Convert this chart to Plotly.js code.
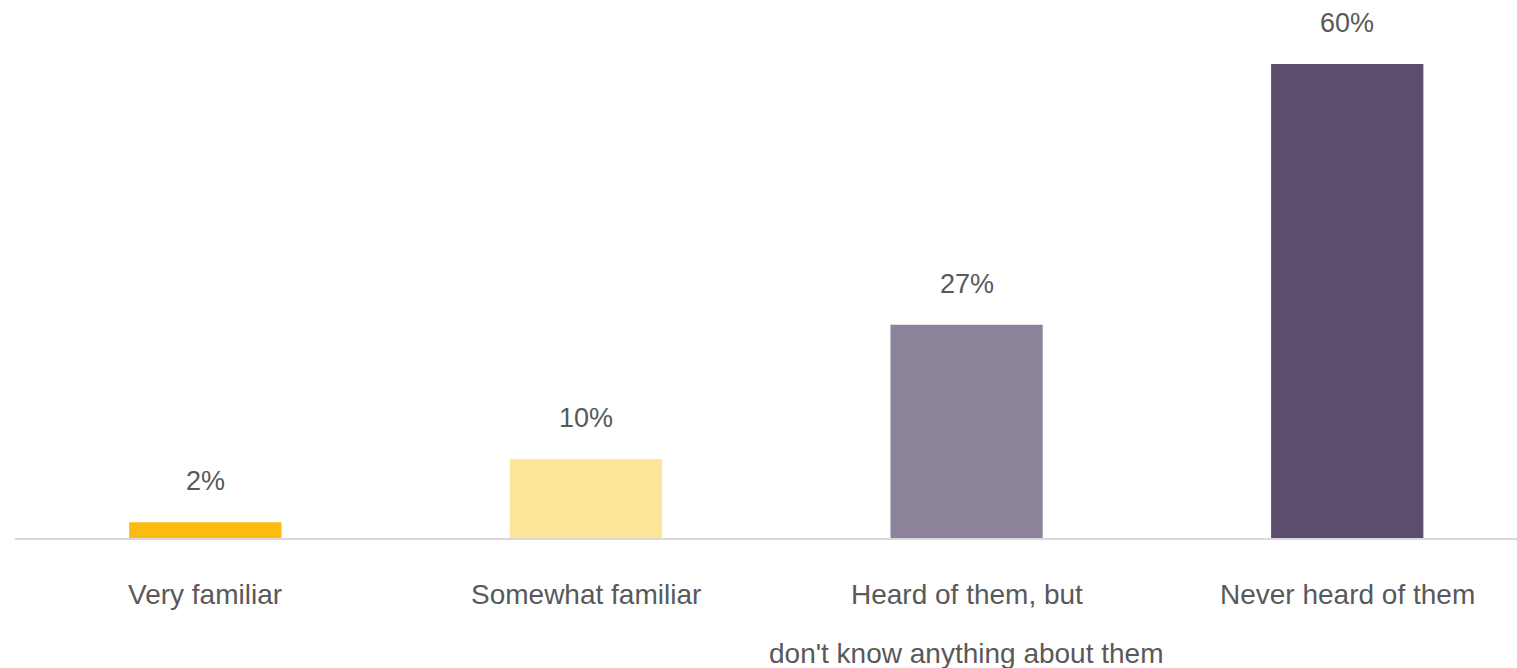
<!DOCTYPE html>
<html>
<head>
<meta charset="utf-8">
<script src="https://cdn.plot.ly/plotly-3.0.1.min.js"></script>
<style>
html, body { margin: 0; padding: 0; background: #ffffff; }
#chart { width: 1517px; height: 668px; }
</style>
</head>
<body>
<div id="chart"></div>
<script>
// Data
var categories = ["Very familiar", "Somewhat familiar", "Heard of them, but don't know anything about them", "Never heard of them"];
var labelLines = [["Very familiar"], ["Somewhat familiar"], ["Heard of them, but", "don't know anything about them"], ["Never heard of them"]];
var values = [2, 10, 27, 60];
var valueLabels = ["2%", "10%", "27%", "60%"];
var barColors = ["#FDBB11", "#FEE59A", "#8C8299", "#5C4D6D"];

var textColor = "#595959";
var fontFamily = "'Liberation Sans', Arial, sans-serif";

var trace = {
  type: "bar",
  x: categories,
  y: values,
  width: 0.4,
  marker: { color: barColors },
  hoverinfo: "skip"
};

var annotations = [];
categories.forEach(function (c, i) {
  annotations.push({
    x: c, y: values[i], xref: "x", yref: "y",
    text: valueLabels[i], showarrow: false,
    xanchor: "center", yanchor: "middle", yshift: 41,
    font: { family: fontFamily, size: 27, color: textColor }
  });
  labelLines[i].forEach(function (line, j) {
    annotations.push({
      x: c, y: 0, xref: "x", yref: "paper",
      text: line, showarrow: false,
      xanchor: "center", yanchor: "middle", yshift: -56 - 59 * j,
      font: { family: fontFamily, size: 28, color: textColor }
    });
  });
});

var layout = {
  width: 1517, height: 668,
  margin: { l: 15, r: 0, t: 0, b: 130 },
  paper_bgcolor: "#ffffff",
  plot_bgcolor: "#ffffff",
  showlegend: false,
  xaxis: {
    type: "category",
    range: [-0.5, 3.446],
    showticklabels: false,
    ticks: "",
    showgrid: false,
    zeroline: false,
    showline: true,
    linecolor: "#D9D9D9",
    linewidth: 2
  },
  yaxis: {
    range: [0, 68.1],
    showticklabels: false,
    showgrid: false,
    zeroline: false,
    showline: false,
    ticks: ""
  },
  annotations: annotations
};

Plotly.newPlot("chart", [trace], layout, { displayModeBar: false, staticPlot: true });
</script>
</body>
</html>
